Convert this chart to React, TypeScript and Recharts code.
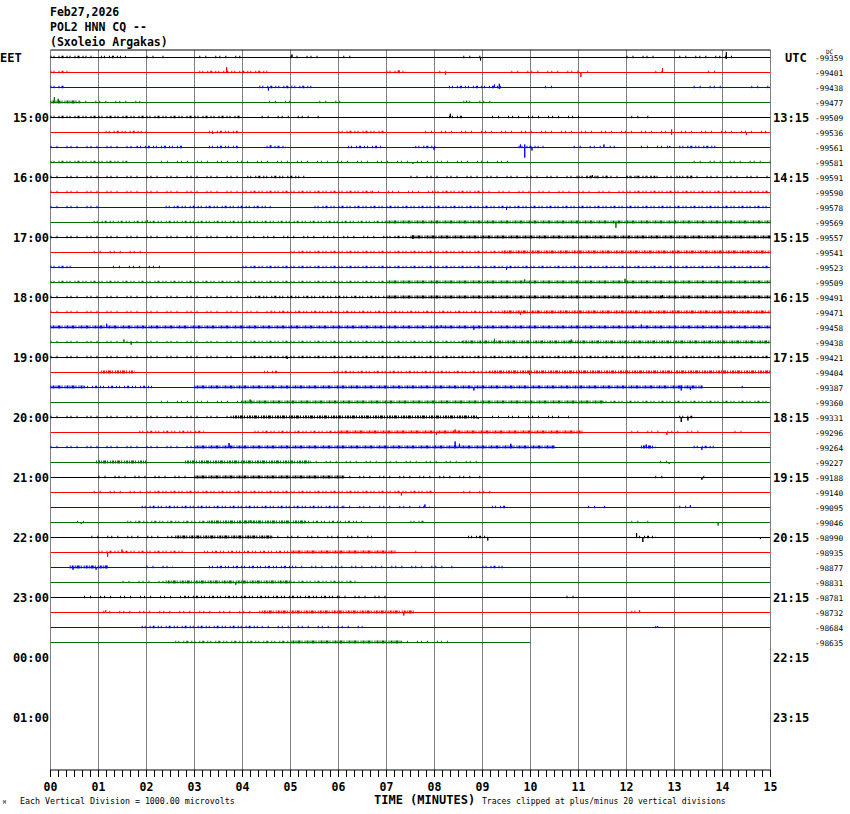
import React from "react";
import { LineChart, Line, XAxis, YAxis, ReferenceLine } from "recharts";

const COLORS = ["#000000", "#ff0000", "#0000ff", "#006e00"];
const ROWS = 48;
const TRACE_COUNT = 40;
const LAST_TRACE_END = 10;

const EET_LABELS = ["EET", "15:00", "16:00", "17:00", "18:00", "19:00", "20:00", "21:00", "22:00", "23:00", "00:00", "01:00"];
const UTC_LABELS = ["UTC", "13:15", "14:15", "15:15", "16:15", "17:15", "18:15", "19:15", "20:15", "21:15", "22:15", "23:15"];
const MINUTE_LABELS = ["00", "01", "02", "03", "04", "05", "06", "07", "08", "09", "10", "11", "12", "13", "14", "15"];

const DC_VALUES = [
  -99359, -99401, -99438, -99477, -99509, -99536, -99561, -99581, -99591, -99590,
  -99578, -99569, -99557, -99541, -99523, -99509, -99491, -99471, -99458, -99438,
  -99421, -99404, -99387, -99360, -99331, -99296, -99264, -99227, -99188, -99140,
  -99095, -99046, -98990, -98935, -98877, -98831, -98781, -98732, -98684, -98635,
];

// [row, minute, up, down]  (amplitudes in trace-row units)
const SPIKES: number[][] = [
  [0, 5.03, 0.2, 0], [0, 8.96, 0, 0.2], [0, 14.08, 0.35, 0.1],
  [1, 3.67, 0.35, 0], [1, 7.26, 0.15, 0], [1, 8.23, 0, 0.15], [1, 11.05, 0, 0.3], [1, 12.75, 0.3, 0],
  [2, 4.54, 0, 0.2], [2, 9.25, 0.2, 0], [2, 9.35, 0.25, 0.1],
  [3, 0.08, 0.35, 0], [3, 0.16, 0.25, 0], [3, 8.67, 0.12, 0],
  [4, 8.33, 0.25, 0],
  [5, 3.38, 0, 0.1], [5, 12.94, 0.2, 0.15], [5, 14.5, 0, 0.15],
  [6, 4.59, 0.15, 0], [6, 7.99, 0, 0.15], [6, 9.79, 0.2, 0], [6, 9.88, 0.2, 0.67], [6, 10.03, 0, 0.2], [6, 11.53, 0.2, 0], [6, 12.9, 0.1, 0],
  [7, 7.55, 0, 0.1],
  [8, 11.29, 0.15, 0],
  [10, 9.5, 0, 0.15],
  [11, 2.02, 0.15, 0], [11, 11.78, 0, 0.35],
  [12, 7.55, 0.15, 0.1],
  [14, 9.5, 0, 0.15],
  [15, 9.88, 0.2, 0], [15, 11.97, 0.25, 0],
  [16, 12.75, 0.15, 0],
  [17, 9.79, 0, 0.15],
  [18, 1.17, 0.25, 0], [18, 8.14, 0.15, 0], [18, 8.82, 0, 0.15], [18, 12.31, 0.2, 0],
  [19, 1.53, 0.2, 0], [19, 1.68, 0, 0.15], [19, 9.25, 0.25, 0], [19, 10.85, 0.2, 0],
  [20, 4.93, 0, 0.1],
  [21, 9.98, 0, 0.15],
  [22, 8.82, 0, 0.2], [22, 13.14, 0.15, 0.2], [22, 13.33, 0, 0.15],
  [23, 4.16, 0.2, 0],
  [24, 8.91, 0, 0.1], [24, 13.14, 0, 0.3], [24, 13.28, 0, 0.2],
  [25, 8.04, 0, 0.15], [25, 8.43, 0.2, 0], [25, 12.84, 0, 0.15],
  [26, 3.72, 0.3, 0], [26, 8.43, 0.4, 0], [26, 8.52, 0.25, 0], [26, 9.59, 0.25, 0], [26, 12.41, 0.2, 0], [26, 13.57, 0, 0.15],
  [27, 12.89, 0, 0.1],
  [28, 13.57, 0, 0.15],
  [29, 7.31, 0, 0.2],
  [30, 7.8, 0.2, 0], [30, 13.33, 0.15, 0],
  [31, 0.64, 0, 0.1], [31, 4.16, 0.15, 0], [31, 13.91, 0, 0.2],
  [32, 9.11, 0, 0.2], [32, 12.21, 0.3, 0], [32, 12.34, 0, 0.3], [32, 14.79, 0, 0.1],
  [33, 1.19, 0, 0.3], [33, 1.49, 0.2, 0],
  [34, 0.47, 0, 0.15], [34, 0.95, 0, 0.15],
  [35, 3.86, 0, 0.15],
  [37, 1.15, 0.15, 0], [37, 7.36, 0, 0.2], [37, 12.27, 0.15, 0],
  [38, 12.65, 0.1, 0],
];

// noise bursts per trace: [startMinute, endMinute, level 1..3]
const BURSTS: number[][][] = [
  [[0, 0.9, 2], [1.05, 1.6, 2], [2, 2.4, 1], [3.1, 4, 1], [5, 5.7, 1], [6.1, 6.3, 1], [8.6, 9, 1], [12, 12.6, 1], [13.1, 14, 1], [14.05, 14.3, 1]],
  [[0, 0.4, 2], [3.1, 4.6, 2], [7, 7.4, 2], [8.1, 8.4, 1], [9.6, 11.2, 1], [12.6, 12.8, 1], [13.7, 14, 1]],
  [[0, 0.3, 2], [4.35, 5.5, 2], [8.3, 9.45, 2], [10.3, 10.5, 1], [13.4, 14, 1], [14.6, 15, 1]],
  [[0, 0.6, 3], [0.6, 1.9, 1], [4.55, 5, 1], [5.6, 6.1, 1], [8.6, 9.2, 1]],
  [[0, 4, 2], [4.4, 5.6, 1], [8.3, 8.6, 2], [9.2, 11.2, 1], [12.1, 12.5, 1]],
  [[1.15, 2, 2], [3.3, 3.9, 2], [6, 7, 2], [7.8, 15, 1]],
  [[0, 1.8, 1], [1.8, 2.8, 2], [3.3, 3.9, 2], [4.5, 4.9, 2], [6.2, 6.9, 2], [7.6, 8.05, 2], [9.75, 10.3, 2], [10.9, 11.8, 1], [12.3, 12.9, 1], [13.1, 13.9, 2]],
  [[0, 1.6, 2], [2.3, 9.7, 1], [13.4, 15, 1]],
  [[0, 4, 1], [4.1, 5.3, 2], [7.5, 15, 1], [11, 11.6, 2], [12, 12.6, 2], [13.1, 13.4, 2]],
  [[0, 4, 1], [4, 6.7, 2], [6.7, 8, 1], [8, 9, 2], [9, 12, 1], [12, 15, 2]],
  [[0, 1.1, 1], [2.4, 4.6, 2], [5.5, 15, 2]],
  [[0.9, 7, 2], [7, 15, 3]],
  [[0, 4, 1], [4.1, 7, 1], [7, 7.5, 2], [7.5, 15, 3]],
  [[0.9, 2, 1], [5, 9.4, 2], [9.4, 15, 3]],
  [[0, 0.5, 2], [1.3, 2.4, 1], [4, 15, 2]],
  [[0, 7, 2], [7, 15, 3]],
  [[0, 4, 1], [4.1, 7, 2], [7, 15, 3]],
  [[0, 4.6, 1], [4.6, 9.4, 2], [9.4, 15, 3]],
  [[0, 15, 3]],
  [[0, 4, 1], [4, 8.6, 2], [8.6, 15, 3]],
  [[0, 3.8, 1], [4, 15, 2]],
  [[1.05, 1.75, 3], [4.45, 4.75, 2], [5.9, 9.2, 2], [9.2, 15, 3]],
  [[0, 0.7, 3], [0.7, 2.2, 2], [3, 13.6, 3], [14.4, 14.5, 1]],
  [[2.3, 4, 1], [4, 11.5, 3], [11.5, 15, 2]],
  [[0, 3.8, 1], [3.8, 8.9, 3], [9.2, 10.8, 1], [13.1, 13.4, 2]],
  [[1.85, 3.2, 2], [4.25, 6, 2], [6, 11.1, 3], [12.1, 13.5, 1], [14.25, 14.55, 1]],
  [[0, 3, 1], [3, 10.5, 3], [12.3, 12.6, 3], [13.4, 13.9, 2]],
  [[0.95, 2, 3], [2.8, 5.4, 3], [5.4, 9, 1], [12.7, 13, 1]],
  [[1, 3, 1], [3, 6.1, 3], [6.1, 9, 1], [12.6, 12.8, 1], [13.6, 13.7, 1]],
  [[0.9, 2, 1], [2, 8, 2], [8.6, 9.3, 1]],
  [[1.9, 6.1, 2], [6.1, 7.9, 1], [9.2, 9.5, 2], [11.2, 11.6, 1], [13.1, 13.4, 1]],
  [[0.55, 0.85, 1], [1.6, 3.3, 2], [3.3, 5.3, 3], [5.3, 6.5, 2], [7.5, 7.8, 2], [12.1, 12.5, 1]],
  [[0.85, 2.6, 1], [2.6, 4.6, 3], [4.6, 6.7, 1], [8.7, 9.1, 2], [12.2, 12.6, 2]],
  [[1, 2.8, 2], [3.2, 5, 2], [5, 7.2, 3], [7.6, 7.7, 1]],
  [[0.4, 1.2, 3], [2, 2.55, 1], [3.3, 5.1, 2], [5.1, 8.4, 1], [9, 9.5, 2]],
  [[1.5, 2.4, 1], [2.4, 5, 3], [5, 6.4, 2]],
  [[0.7, 2.8, 1], [2.8, 6, 2], [6, 7, 1], [10.75, 10.9, 1]],
  [[1.1, 4.4, 1], [4.4, 7.6, 3], [12.1, 12.3, 2]],
  [[1.9, 4.4, 2], [4.4, 6.5, 1], [12.6, 12.7, 1]],
  [[2.6, 5, 2], [5, 7.3, 3], [7.3, 8.3, 1]],
];

const BURST_STYLE: Record<number, { w: number; dash: string }> = {
  1: { w: 2.5, dash: "1 5 1 9 1 3" },
  2: { w: 2.5, dash: "1 2 1 4 1 2 2 3" },
  3: { w: 3, dash: "1 1 2 1 1 1 3 1 1 2" },
};

const FONT = "'DejaVu Sans Mono', monospace";
const TOP = 50;
const PLOT_H = 720;
const AXIS_Y = TOP + PLOT_H;

const hourRows = EET_LABELS.map((_, i) => i * 4);
const allRows = Array.from({ length: ROWS }, (_, i) => i);
const xTicks: number[] = [];
MINUTE_LABELS.forEach((_, m) => {
  xTicks.push(m);
  if (m < 15) for (let k = 1; k < 6; k++) xTicks.push(m + k / 6);
});

function traceData(row: number) {
  const end = row === TRACE_COUNT - 1 ? LAST_TRACE_END : 15;
  const pts = [{ x: 0, y: row }];
  SPIKES.filter((s) => s[0] === row)
    .sort((a, b) => a[1] - b[1])
    .forEach(([, m, up, down]) => {
      pts.push({ x: m, y: row }, { x: m, y: row - up }, { x: m, y: row + down }, { x: m, y: row });
    });
  pts.push({ x: end, y: row });
  return pts;
}

const LeftTick = (p: any) => {
  const i = Math.round(p.payload.value / 4);
  const label = EET_LABELS[i];
  if (label === undefined) return null;
  return (
    <text x={i === 0 ? 0 : 49} y={p.y + 4.5} textAnchor={i === 0 ? "start" : "end"}
      fontFamily={FONT} fontWeight="bold" fontSize={12} fill="#000">
      {label}
    </text>
  );
};

const RightTick = (p: any) => {
  const r = p.payload.value;
  const out: React.ReactNode[] = [];
  if (r % 4 === 0 && UTC_LABELS[r / 4] !== undefined) {
    out.push(
      <text key="t" x={r === 0 ? 785 : 773} y={p.y + 4.5} fontFamily={FONT} fontWeight="bold" fontSize={12} fill="#000">
        {UTC_LABELS[r / 4]}
      </text>
    );
  }
  if (r < DC_VALUES.length) {
    out.push(
      <text key="d" x={815} y={p.y + 3} fontFamily={FONT} fontSize={7.8} fill="#000">
        {DC_VALUES[r]}
      </text>
    );
  }
  if (r === 0) {
    out.push(
      <text key="dc" x={826} y={p.y - 4} fontFamily={FONT} fontSize={6} fill="#000">DC</text>
    );
  }
  return <g>{out}</g>;
};

const XTick = (p: any) => {
  const v = p.payload.value;
  const idx = Math.round(v);
  const major = Math.abs(v - idx) < 1e-6;
  return (
    <g>
      <line x1={p.x} x2={p.x} y1={AXIS_Y} y2={AXIS_Y + 7} stroke="#000" strokeWidth={1} />
      {major && (
        <text x={p.x} y={AXIS_Y + 21} textAnchor="middle" fontFamily={FONT} fontWeight="bold" fontSize={11.5} fill="#000">
          {MINUTE_LABELS[idx]}
        </text>
      )}
    </g>
  );
};

export default function App() {
  return (
    <div style={{ position: "absolute", left: 0, top: 0, width: 850, height: 814, background: "#fff" }}>
      <LineChart width={850} height={814} margin={{ top: TOP, right: 0, bottom: 14, left: 0.5 }}>
        <XAxis xAxisId={0} type="number" dataKey="x" domain={[0, 15]} ticks={xTicks} interval={0}
          tick={<XTick />} tickLine={false} axisLine={{ stroke: "#000" }} height={30} allowDataOverflow />
        <YAxis yAxisId="left" type="number" domain={[-0.5, ROWS - 0.5]} reversed ticks={hourRows} interval={0}
          tick={<LeftTick />} axisLine={false} tickLine={false} width={50} allowDataOverflow />
        <YAxis yAxisId="right" orientation="right" type="number" domain={[-0.5, ROWS - 0.5]} reversed ticks={allRows}
          interval={0} tick={<RightTick />} axisLine={false} tickLine={false} width={79.5} allowDataOverflow />
        {MINUTE_LABELS.map((_, m) => (
          <ReferenceLine key={`g${m}`} yAxisId="left" x={m} stroke="#808080" strokeWidth={1} />
        ))}
        <ReferenceLine yAxisId="left" y={-0.5} stroke="#000" strokeWidth={1} />
        {BURSTS.map((list, row) =>
          list.map(([s, e, lvl], j) => (
            <ReferenceLine key={`b${row}-${j}`} yAxisId="left" ifOverflow="visible"
              segment={[{ x: s, y: row - 0.04 }, { x: e, y: row - 0.04 }]}
              stroke={COLORS[row % 4]} strokeWidth={BURST_STYLE[lvl].w} strokeDasharray={BURST_STYLE[lvl].dash} />
          ))
        )}
        {Array.from({ length: TRACE_COUNT }, (_, row) => (
          <Line key={`t${row}`} yAxisId="left" data={traceData(row)} dataKey="y" type="linear"
            stroke={COLORS[row % 4]} strokeWidth={1} dot={false} activeDot={false} isAnimationActive={false} />
        ))}
      </LineChart>
      <svg width={850} height={814} style={{ position: "absolute", left: 0, top: 0, pointerEvents: "none" }}>
        <g fontFamily={FONT} fill="#000">
          <text x={50} y={16} fontWeight="bold" fontSize={11.5}>Feb27,2026</text>
          <text x={50} y={31} fontWeight="bold" fontSize={11.5}>POL2 HNN CQ --</text>
          <text x={50} y={45.5} fontWeight="bold" fontSize={11.5}>(Sxoleio Argakas)</text>
          <text x={374} y={803.5} fontWeight="bold" fontSize={12}>TIME (MINUTES)</text>
          <text x={20} y={804} fontSize={8.3}>Each Vertical Division = 1000.00 microvolts</text>
          <text x={482} y={804} fontSize={8.1}>Traces clipped at plus/minus 20 vertical divisions</text>
          <text x={3} y={804} fontSize={5}>M</text>
        </g>
      </svg>
    </div>
  );
}
